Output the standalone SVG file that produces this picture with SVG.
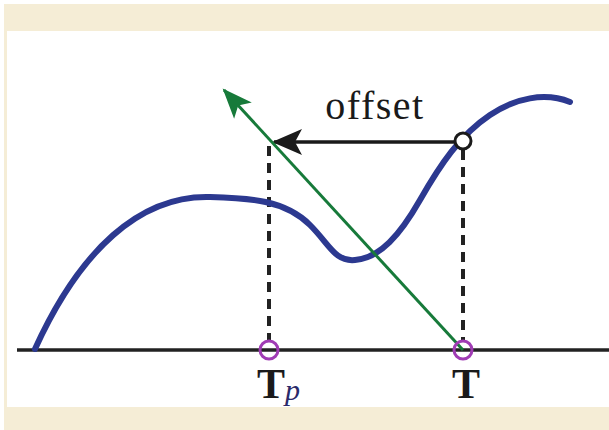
<svg xmlns="http://www.w3.org/2000/svg" width="609" height="430" viewBox="0 0 609 430">
<defs>
<style>
.dash{stroke:#222;stroke-width:4;stroke-dasharray:10 7;fill:none}
.pc{fill:none;stroke:#a03cb4;stroke-width:3}
.lbl{font-family:"Liberation Serif",serif;fill:#1a1a1a}
</style>
<marker id="blk" markerWidth="34" markerHeight="28" refX="30" refY="14" orient="auto" markerUnits="userSpaceOnUse">
<path d="M32,14 L2,1 L9,14 L2,27 Z" fill="#1a1a1a"/>
</marker>
<marker id="grn" markerWidth="34" markerHeight="28" refX="30" refY="14" orient="auto" markerUnits="userSpaceOnUse">
<path d="M32,14 L2,2 L9,14 L2,26 Z" fill="#177a3a"/>
</marker>
</defs>
<rect x="0" y="0" width="609" height="430" fill="#fff"/>
<rect x="4" y="4" width="605" height="426" fill="#f5edd6"/>
<rect x="7" y="31" width="602" height="376" fill="#fff"/>
<g id="connectors">
<line x1="17" y1="350" x2="609" y2="350" stroke="#222" stroke-width="3.5"/>
<line class="dash" x1="269" y1="146" x2="269" y2="342"/>
<line class="dash" x1="463" y1="150" x2="463" y2="342"/>
<path id="curve" d="M35,349 C80,250 140,195 210,197 C250,198 285,200 310,225 C330,245 335,262 355,260 C380,258 400,235 420,200 C440,165 460,135 490,115 C515,98 545,92 570,102" fill="none" stroke="#2c3990" stroke-width="6" stroke-linecap="round"/>
<line x1="455" y1="142" x2="274" y2="142" stroke="#1a1a1a" stroke-width="3.5" marker-end="url(#blk)"/>
<line x1="463" y1="350" x2="224" y2="90" stroke="#177a3a" stroke-width="3" marker-end="url(#grn)"/>
</g>
<g id="point-T-curve"><circle cx="463" cy="141" r="8" fill="#fff" stroke="#1a1a1a" stroke-width="3"/></g>
<g id="node-Tp"><circle class="pc" cx="269" cy="350" r="9"/>
<text class="lbl" x="257" y="398" font-size="42" font-weight="bold">T<tspan font-style="italic" font-weight="normal" font-size="30" dy="2" fill="#2a2a6a">p</tspan></text></g>
<g id="node-T"><circle class="pc" cx="463" cy="350" r="9"/>
<text class="lbl" x="466" y="398" font-size="42" font-weight="bold" text-anchor="middle">T</text></g>
<g id="label-offset"><text class="lbl" x="375" y="119" text-anchor="middle" font-size="40" letter-spacing="1.5">offset</text></g>
</svg>
